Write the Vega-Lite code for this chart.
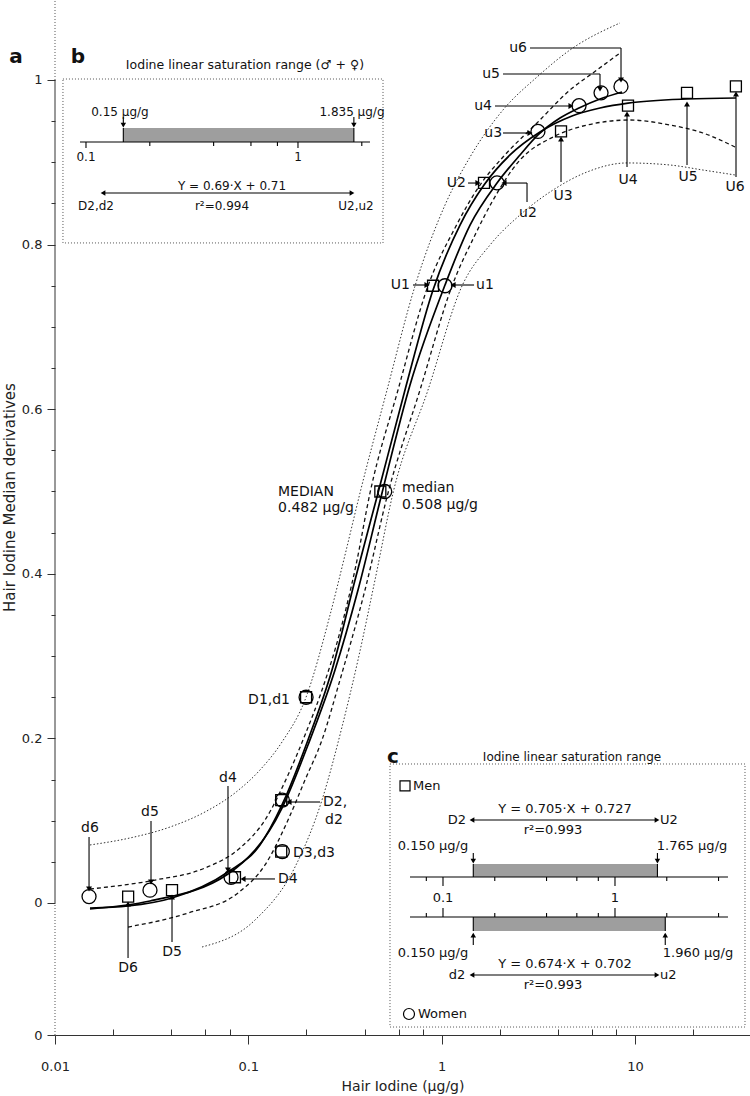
{
"$schema": "https://vega.github.io/schema/vega-lite/v6.json",
"width": 695, "height": 1035,
"autosize": "none",
"padding": {"left": 55, "top": 0, "right": 0, "bottom": 61},
"background": "white",
"config": {"view": {"stroke": null}, "font": "DejaVu Sans", "text": {"font": "DejaVu Sans", "fontSize": 14, "color": "#111"}},
"datasets": {
"men": [
{"id":"D6","x":0.0239,"y":0.0078},{"id":"D5","x":0.0403,"y":0.0156},{"id":"D4","x":0.0853,"y":0.03125},{"id":"D3","x":0.148,"y":0.0625},{"id":"D2","x":0.148,"y":0.125},{"id":"D1","x":0.199,"y":0.25},{"id":"MEDIAN","x":0.482,"y":0.5},{"id":"U1","x":0.903,"y":0.75},{"id":"U2","x":1.657,"y":0.875},{"id":"U3","x":4.147,"y":0.9375},{"id":"U4","x":9.21,"y":0.96875},{"id":"U5","x":18.6,"y":0.984375},{"id":"U6","x":33.3,"y":0.9921875}],
"women": [
{"id":"d6","x":0.015,"y":0.0078},{"id":"d5","x":0.031,"y":0.0156},{"id":"d4","x":0.0814,"y":0.03125},{"id":"d3","x":0.15,"y":0.0625},{"id":"d2","x":0.15,"y":0.125},{"id":"d1","x":0.199,"y":0.25},{"id":"median","x":0.508,"y":0.5},{"id":"u1","x":1.041,"y":0.75},{"id":"u2","x":1.935,"y":0.875},{"id":"u3","x":3.15,"y":0.9375},{"id":"u4","x":5.14,"y":0.96875},{"id":"u5","x":6.68,"y":0.984375},{"id":"u6","x":8.47,"y":0.9921875}],
"curves": [
{"curve":"Men fit","kind":"fit","x":0.01517,"y":-0.0061},{"curve":"Men fit","kind":"fit","x":0.02387,"y":-0.0036},{"curve":"Men fit","kind":"fit","x":0.0403,"y":0.0061},{"curve":"Men fit","kind":"fit","x":0.0785,"y":0.0377},{"curve":"Men fit","kind":"fit","x":0.1149,"y":0.0705},{"curve":"Men fit","kind":"fit","x":0.1494,"y":0.1191},{"curve":"Men fit","kind":"fit","x":0.2036,"y":0.1981},{"curve":"Men fit","kind":"fit","x":0.271,"y":0.2831},{"curve":"Men fit","kind":"fit","x":0.3565,"y":0.3925},{"curve":"Men fit","kind":"fit","x":0.4688,"y":0.4982},{"curve":"Men fit","kind":"fit","x":0.6466,"y":0.6233},{"curve":"Men fit","kind":"fit","x":0.9027,"y":0.7448},{"curve":"Men fit","kind":"fit","x":1.245,"y":0.8238},{"curve":"Men fit","kind":"fit","x":1.657,"y":0.8724},{"curve":"Men fit","kind":"fit","x":2.259,"y":0.9089},{"curve":"Men fit","kind":"fit","x":3.228,"y":0.9368},{"curve":"Men fit","kind":"fit","x":4.727,"y":0.9563},{"curve":"Men fit","kind":"fit","x":6.598,"y":0.966},{"curve":"Men fit","kind":"fit","x":9.212,"y":0.972},{"curve":"Men fit","kind":"fit","x":18.6,"y":0.9769},{"curve":"Men fit","kind":"fit","x":33.34,"y":0.9781},
{"curve":"Women fit","kind":"fit","x":0.01517,"y":-0.0073},{"curve":"Women fit","kind":"fit","x":0.031,"y":0.0024},{"curve":"Women fit","kind":"fit","x":0.0785,"y":0.0352},{"curve":"Women fit","kind":"fit","x":0.1494,"y":0.1154},{"curve":"Women fit","kind":"fit","x":0.2036,"y":0.192},{"curve":"Women fit","kind":"fit","x":0.2809,"y":0.2831},{"curve":"Women fit","kind":"fit","x":0.3694,"y":0.3803},{"curve":"Women fit","kind":"fit","x":0.4917,"y":0.4982},{"curve":"Women fit","kind":"fit","x":0.6863,"y":0.6294},{"curve":"Women fit","kind":"fit","x":1.0414,"y":0.7509},{"curve":"Women fit","kind":"fit","x":1.403,"y":0.8238},{"curve":"Women fit","kind":"fit","x":1.935,"y":0.8748},{"curve":"Women fit","kind":"fit","x":2.545,"y":0.9089},{"curve":"Women fit","kind":"fit","x":3.152,"y":0.9332},{"curve":"Women fit","kind":"fit","x":4.098,"y":0.9538},{"curve":"Women fit","kind":"fit","x":5.138,"y":0.966},{"curve":"Women fit","kind":"fit","x":6.598,"y":0.9769},{"curve":"Women fit","kind":"fit","x":8.577,"y":0.9854},
{"curve":"Upper prediction","kind":"prediction","x":0.01517,"y":0.0705},{"curve":"Upper prediction","kind":"prediction","x":0.02443,"y":0.079},{"curve":"Upper prediction","kind":"prediction","x":0.03935,"y":0.0923},{"curve":"Upper prediction","kind":"prediction","x":0.0597,"y":0.1106},{"curve":"Upper prediction","kind":"prediction","x":0.0853,"y":0.1337},{"curve":"Upper prediction","kind":"prediction","x":0.1149,"y":0.1616},{"curve":"Upper prediction","kind":"prediction","x":0.1494,"y":0.1956},{"curve":"Upper prediction","kind":"prediction","x":0.1965,"y":0.2467},{"curve":"Upper prediction","kind":"prediction","x":0.2647,"y":0.3499},{"curve":"Upper prediction","kind":"prediction","x":0.3164,"y":0.4228},{"curve":"Upper prediction","kind":"prediction","x":0.3783,"y":0.4982},{"curve":"Upper prediction","kind":"prediction","x":0.5219,"y":0.6233},{"curve":"Upper prediction","kind":"prediction","x":0.7285,"y":0.7497},{"curve":"Upper prediction","kind":"prediction","x":1.0414,"y":0.8481},{"curve":"Upper prediction","kind":"prediction","x":1.403,"y":0.9064},{"curve":"Upper prediction","kind":"prediction","x":2.078,"y":0.9636},{"curve":"Upper prediction","kind":"prediction","x":3.115,"y":1.0036},{"curve":"Upper prediction","kind":"prediction","x":4.616,"y":1.0365},{"curve":"Upper prediction","kind":"prediction","x":8.374,"y":1.0693},
{"curve":"Upper confidence","kind":"confidence","x":0.01517,"y":0.017},{"curve":"Upper confidence","kind":"confidence","x":0.03291,"y":0.0279},{"curve":"Upper confidence","kind":"confidence","x":0.0597,"y":0.0425},{"curve":"Upper confidence","kind":"confidence","x":0.0906,"y":0.0668},{"curve":"Upper confidence","kind":"confidence","x":0.122,"y":0.1008},{"curve":"Upper confidence","kind":"confidence","x":0.1605,"y":0.1555},{"curve":"Upper confidence","kind":"confidence","x":0.1965,"y":0.2041},{"curve":"Upper confidence","kind":"confidence","x":0.2406,"y":0.2588},{"curve":"Upper confidence","kind":"confidence","x":0.2981,"y":0.3293},{"curve":"Upper confidence","kind":"confidence","x":0.3608,"y":0.4107},{"curve":"Upper confidence","kind":"confidence","x":0.4262,"y":0.4982},{"curve":"Upper confidence","kind":"confidence","x":0.5948,"y":0.6233},{"curve":"Upper confidence","kind":"confidence","x":0.8502,"y":0.7497},{"curve":"Upper confidence","kind":"confidence","x":1.173,"y":0.8202},{"curve":"Upper confidence","kind":"confidence","x":1.58,"y":0.8724},{"curve":"Upper confidence","kind":"confidence","x":2.078,"y":0.9064},{"curve":"Upper confidence","kind":"confidence","x":3.115,"y":0.9478},{"curve":"Upper confidence","kind":"confidence","x":4.616,"y":0.9878},{"curve":"Upper confidence","kind":"confidence","x":6.366,"y":1.0122},{"curve":"Upper confidence","kind":"confidence","x":8.374,"y":1.0328},
{"curve":"Lower confidence","kind":"confidence","x":0.02387,"y":-0.0292},{"curve":"Lower confidence","kind":"confidence","x":0.04877,"y":-0.0122},{"curve":"Lower confidence","kind":"confidence","x":0.0885,"y":0.0122},{"curve":"Lower confidence","kind":"confidence","x":0.122,"y":0.0462},{"curve":"Lower confidence","kind":"confidence","x":0.1605,"y":0.1008},{"curve":"Lower confidence","kind":"confidence","x":0.1965,"y":0.1495},{"curve":"Lower confidence","kind":"confidence","x":0.2406,"y":0.1981},{"curve":"Lower confidence","kind":"confidence","x":0.2981,"y":0.271},{"curve":"Lower confidence","kind":"confidence","x":0.4015,"y":0.3803},{"curve":"Lower confidence","kind":"confidence","x":0.5282,"y":0.4982},{"curve":"Lower confidence","kind":"confidence","x":0.773,"y":0.6233},{"curve":"Lower confidence","kind":"confidence","x":1.132,"y":0.7497},{"curve":"Lower confidence","kind":"confidence","x":1.489,"y":0.8117},{"curve":"Lower confidence","kind":"confidence","x":1.823,"y":0.8518},{"curve":"Lower confidence","kind":"confidence","x":2.545,"y":0.9028},{"curve":"Lower confidence","kind":"confidence","x":3.77,"y":0.9307},{"curve":"Lower confidence","kind":"confidence","x":5.652,"y":0.9453},{"curve":"Lower confidence","kind":"confidence","x":9.434,"y":0.9514},{"curve":"Lower confidence","kind":"confidence","x":15.19,"y":0.9453},{"curve":"Lower confidence","kind":"confidence","x":22.5,"y":0.9356},{"curve":"Lower confidence","kind":"confidence","x":32.96,"y":0.9186},
{"curve":"Lower prediction","kind":"prediction","x":0.05762,"y":-0.0535},{"curve":"Lower prediction","kind":"prediction","x":0.1083,"y":-0.0207},{"curve":"Lower prediction","kind":"prediction","x":0.1744,"y":0.0437},{"curve":"Lower prediction","kind":"prediction","x":0.2406,"y":0.1252},{"curve":"Lower prediction","kind":"prediction","x":0.3053,"y":0.2139},{"curve":"Lower prediction","kind":"prediction","x":0.3694,"y":0.2953},{"curve":"Lower prediction","kind":"prediction","x":0.4523,"y":0.3925},{"curve":"Lower prediction","kind":"prediction","x":0.5607,"y":0.4982},{"curve":"Lower prediction","kind":"prediction","x":0.8502,"y":0.6233},{"curve":"Lower prediction","kind":"prediction","x":1.275,"y":0.7497},{"curve":"Lower prediction","kind":"prediction","x":1.78,"y":0.7995},{"curve":"Lower prediction","kind":"prediction","x":2.545,"y":0.836},{"curve":"Lower prediction","kind":"prediction","x":3.77,"y":0.8663},{"curve":"Lower prediction","kind":"prediction","x":5.652,"y":0.8882},{"curve":"Lower prediction","kind":"prediction","x":9.102,"y":0.8992},{"curve":"Lower prediction","kind":"prediction","x":15.19,"y":0.8967},{"curve":"Lower prediction","kind":"prediction","x":22.5,"y":0.8906},{"curve":"Lower prediction","kind":"prediction","x":32.96,"y":0.8846}],
"axisSolid": [{"x":0.01,"y":0,"y2":1}],
"axisDotted": [{"x":0.01,"y":1,"y2":1.0972},{"x":0.01,"y":-0.1604,"y2":0}],
"leaders": [
{"x":2.866,"y":1.0389,"x2":8.474,"y2":1.0389},{"x":8.474,"y":1.0389,"x2":8.474,"y2":1.0},
{"x":2.078,"y":1.0073,"x2":6.598,"y2":1.0073},{"x":6.598,"y":1.0073,"x2":6.598,"y2":0.9891},
{"x":1.889,"y":0.9684,"x2":4.67,"y2":0.9684},
{"x":2.078,"y":0.9356,"x2":2.866,"y2":0.9356},
{"x":1.37,"y":0.8748,"x2":1.542,"y2":0.8748},
{"x":2.766,"y":0.8518,"x2":2.766,"y2":0.8748},{"x":2.766,"y":0.8748,"x2":2.102,"y2":0.8748},
{"x":4.147,"y":0.876,"x2":4.147,"y2":0.9283},
{"x":9.102,"y":0.8943,"x2":9.102,"y2":0.9587},
{"x":18.6,"y":0.8967,"x2":18.6,"y2":0.9708},
{"x":33.34,"y":0.8821,"x2":33.34,"y2":0.983},
{"x":0.7112,"y":0.7509,"x2":0.8405,"y2":0.7509},
{"x":1.472,"y":0.7509,"x2":1.146,"y2":0.7509},
{"x":0.2349,"y":0.1227,"x2":0.1624,"y2":0.1227},
{"x":0.1374,"y":0.0292,"x2":0.0939,"y2":0.0292},
{"x":0.0785,"y":0.1422,"x2":0.0785,"y2":0.0401},
{"x":0.03138,"y":0.0996,"x2":0.03138,"y2":0.0255},
{"x":0.015,"y":0.0802,"x2":0.015,"y2":0.017},
{"x":0.0403,"y":-0.0474,"x2":0.0403,"y2":0.0073},
{"x":0.02387,"y":-0.0668,"x2":0.02387,"y2":-0.0012}],
"heads": [
{"x":8.474,"y":1.0,"dir":"down"},{"x":6.598,"y":0.9891,"dir":"down"},{"x":4.67,"y":0.9684,"dir":"right"},{"x":2.866,"y":0.9356,"dir":"right"},{"x":1.542,"y":0.8748,"dir":"right"},{"x":2.102,"y":0.8748,"dir":"left"},{"x":4.147,"y":0.9283,"dir":"up"},{"x":9.102,"y":0.9587,"dir":"up"},{"x":18.6,"y":0.9708,"dir":"up"},{"x":33.34,"y":0.983,"dir":"up"},{"x":0.8405,"y":0.7509,"dir":"right"},{"x":1.146,"y":0.7509,"dir":"left"},{"x":0.1624,"y":0.1227,"dir":"left"},{"x":0.0939,"y":0.0292,"dir":"left"},{"x":0.0785,"y":0.0401,"dir":"down"},{"x":0.03138,"y":0.0255,"dir":"down"},{"x":0.015,"y":0.017,"dir":"down"},{"x":0.0403,"y":0.0073,"dir":"up"},{"x":0.02387,"y":-0.0012,"dir":"up"}],
"txtL": [
{"text":"MEDIAN","x":0.1425,"y":0.4994},{"text":"0.482 μg/g","x":0.1425,"y":0.48},{"text":"median","x":0.6238,"y":0.5043},{"text":"0.508 μg/g","x":0.6238,"y":0.4836},{"text":"u1","x":1.507,"y":0.7509},{"text":"D2,","x":0.2434,"y":0.1227},{"text":"d2","x":0.2493,"y":0.1008},{"text":"D3,d3","x":0.1703,"y":0.0608},{"text":"D4","x":0.1425,"y":0.0292}],
"txtR": [
{"text":"D1,d1","x":0.1644,"y":0.2467},{"text":"U1","x":0.6863,"y":0.7509},{"text":"U2","x":1.337,"y":0.8748},{"text":"u3","x":2.054,"y":0.9356},{"text":"u4","x":1.823,"y":0.9684},{"text":"u5","x":2.005,"y":1.0073},{"text":"u6","x":2.766,"y":1.0389}],
"txtC": [
{"text":"u2","x":2.798,"y":0.8384},{"text":"U3","x":4.246,"y":0.8591},{"text":"U4","x":9.212,"y":0.8785},{"text":"U5","x":18.83,"y":0.8821},{"text":"U6","x":32.96,"y":0.87},{"text":"d4","x":0.0785,"y":0.1519},{"text":"d5","x":0.031,"y":0.1106},{"text":"d6","x":0.01517,"y":0.0911},{"text":"D5","x":0.0403,"y":-0.0595},{"text":"D6","x":0.02387,"y":-0.079}],
"tagA": [{"text":"a","x":0.006284,"y":1.0279}],
"bBox": [{"x":0.07787,"x2":2.518,"y":1.0012,"y2":0.802}],
"bBar": [{"x":0.15,"x2":1.835,"y":0.9417,"y2":0.9247}],
"bSegs": [
{"x":0.0937,"y":0.9247,"x2":2.186,"y2":0.9247},
{"x":0.2,"y":0.9247,"x2":0.2,"y2":0.9198},{"x":0.4,"y":0.9247,"x2":0.4,"y2":0.9198},{"x":0.6,"y":0.9247,"x2":0.6,"y2":0.9198},{"x":0.8,"y":0.9247,"x2":0.8,"y2":0.9198},{"x":2,"y":0.9247,"x2":2,"y2":0.9198},
{"x":0.1,"y":0.9247,"x2":0.1,"y2":0.9174},{"x":1,"y":0.9247,"x2":1,"y2":0.9174},
{"x":0.15,"y":0.9417,"x2":0.15,"y2":0.9247},{"x":1.835,"y":0.9417,"x2":1.835,"y2":0.9247},
{"x":0.15,"y":0.9551,"x2":0.15,"y2":0.9441},{"x":1.835,"y":0.9551,"x2":1.835,"y2":0.9441},
{"x":0.1203,"y":0.8627,"x2":1.798,"y2":0.8627}],
"bHeads": [{"x":0.15,"y":0.9453,"dir":"down"},{"x":1.835,"y":0.9453,"dir":"down"},{"x":0.1203,"y":0.8627,"dir":"left"},{"x":1.798,"y":0.8627,"dir":"right"}],
"bText": [
{"text":"0.15 μg/g","x":0.1446,"y":0.9611},{"text":"1.835 μg/g","x":1.798,"y":0.9611},{"text":"0.1","x":0.1,"y":0.9064},{"text":"1","x":1,"y":0.9064},{"text":"Y = 0.69·X + 0.71","x":0.4884,"y":0.8712},{"text":"D2,d2","x":0.1115,"y":0.8469},{"text":"U2,u2","x":1.878,"y":0.8469},{"text":"r²=0.994","x":0.4381,"y":0.8469}],
"bTitle": [{"text":"Iodine linear saturation range (♂ + ♀)","x":0.5623,"y":1.0182}],
"bTag": [{"text":"b","x":0.0917,"y":1.0279}],
"cBox": [{"x":0.04918,"x2":5.7,"y":0.1689,"y2":-0.1507}],
"cBars": [{"x":0.15,"x2":1.765,"y":0.0474,"y2":0.0316},{"x":0.15,"x2":1.96,"y":-0.017,"y2":-0.034}],
"cSegs": [
{"x":0.06428,"y":0.0316,"x2":4.539,"y2":0.0316},{"x":0.06428,"y":-0.017,"x2":4.539,"y2":-0.017},
{"x":0.08,"y":0.0316,"x2":0.08,"y2":0.0267},{"x":0.2,"y":0.0316,"x2":0.2,"y2":0.0267},{"x":0.4,"y":0.0316,"x2":0.4,"y2":0.0267},{"x":0.6,"y":0.0316,"x2":0.6,"y2":0.0267},{"x":0.8,"y":0.0316,"x2":0.8,"y2":0.0267},{"x":2,"y":0.0316,"x2":2,"y2":0.0267},{"x":4,"y":0.0316,"x2":4,"y2":0.0267},
{"x":0.1,"y":0.0316,"x2":0.1,"y2":0.0207},{"x":1,"y":0.0316,"x2":1,"y2":0.0207},
{"x":0.08,"y":-0.017,"x2":0.08,"y2":-0.0122},{"x":0.2,"y":-0.017,"x2":0.2,"y2":-0.0122},{"x":0.4,"y":-0.017,"x2":0.4,"y2":-0.0122},{"x":0.6,"y":-0.017,"x2":0.6,"y2":-0.0122},{"x":0.8,"y":-0.017,"x2":0.8,"y2":-0.0122},{"x":2,"y":-0.017,"x2":2,"y2":-0.0122},{"x":4,"y":-0.017,"x2":4,"y2":-0.0122},
{"x":0.1,"y":-0.017,"x2":0.1,"y2":-0.0061},{"x":1,"y":-0.017,"x2":1,"y2":-0.0061},
{"x":0.15,"y":0.0474,"x2":0.15,"y2":0.0316},{"x":1.765,"y":0.0474,"x2":1.765,"y2":0.0316},{"x":0.15,"y":-0.017,"x2":0.15,"y2":-0.034},{"x":1.96,"y":-0.017,"x2":1.96,"y2":-0.034},
{"x":0.15,"y":0.0608,"x2":0.15,"y2":0.0498},{"x":1.765,"y":0.0608,"x2":1.765,"y2":0.0498},{"x":0.15,"y":-0.051,"x2":0.15,"y2":-0.0377},{"x":1.96,"y":-0.051,"x2":1.96,"y2":-0.0377},
{"x":0.1474,"y":0.1008,"x2":1.755,"y2":0.1008},{"x":0.1474,"y":-0.0875,"x2":1.755,"y2":-0.0875}],
"cHeads": [{"x":0.15,"y":0.051,"dir":"down"},{"x":1.765,"y":0.051,"dir":"down"},{"x":0.15,"y":-0.0389,"dir":"up"},{"x":1.96,"y":-0.0389,"dir":"up"},{"x":0.1474,"y":0.1008,"dir":"left"},{"x":0.1474,"y":-0.0875,"dir":"left"},{"x":1.755,"y":0.1008,"dir":"right"},{"x":1.755,"y":-0.0875,"dir":"right"}],
"cTextC": [
{"text":"Y = 0.705·X + 0.727","x":0.5122,"y":0.1142},{"text":"r²=0.993","x":0.4361,"y":0.0887},{"text":"D2","x":0.1206,"y":0.1008},{"text":"0.150 μg/g","x":0.08746,"y":0.0693},{"text":"1.765 μg/g","x":2.804,"y":0.0693},{"text":"0.1","x":0.1,"y":0.0061},{"text":"1","x":1,"y":0.0061},{"text":"0.150 μg/g","x":0.08746,"y":-0.0608},{"text":"1.960 μg/g","x":3.038,"y":-0.0608},{"text":"Y = 0.674·X + 0.702","x":0.5122,"y":-0.0741},{"text":"d2","x":0.1206,"y":-0.0875},{"text":"r²=0.993","x":0.4361,"y":-0.0996}],
"cTextL": [{"text":"U2","x":1.826,"y":0.1008},{"text":"u2","x":1.826,"y":-0.0875},{"text":"Men","x":0.06692,"y":0.1422},{"text":"Women","x":0.07156,"y":-0.1349}],
"cTitle": [{"text":"Iodine linear saturation range","x":0.5623,"y":0.1774}],
"cTag": [{"text":"c","x":0.0512,"y":0.1774}],
"cSquare": [{"x":0.06014,"y":0.1422}],
"cCircle": [{"x":0.06343,"y":-0.1349}]
},
"resolve": {"scale": {"x": "independent", "y": "independent"}, "axis": {"x": "independent", "y": "independent"}},
"layer": [
{
"encoding": {
"x": {"field": "x", "type": "quantitative", "scale": {"type": "log", "domain": [0.01, 39.39], "nice": false},
 "axis": {"values": [0.01,0.02,0.04,0.06,0.08,0.1,0.2,0.4,0.6,0.8,1,2,4,6,8,10,20],
  "labelExpr": "indexof([0.01,0.1,1,10], datum.value) >= 0 ? '' + datum.value : ''",
  "tickSize": {"condition": {"test": "indexof([0.01,0.1,1,10], datum.value) >= 0", "value": 9}, "value": -6},
  "title": "Hair Iodine (μg/g)", "grid": false, "labelFontSize": 13, "titleFontSize": 14, "titleFontWeight": "normal",
  "labelFont": "DejaVu Sans", "titleFont": "DejaVu Sans", "labelPadding": 16, "titlePadding": 6, "labelFlush": false,
  "domainColor": "#333", "tickColor": "#333", "labelColor": "#222", "titleColor": "#222", "labelOverlap": false}},
"y": {"field": "y", "type": "quantitative", "scale": {"domain": [-0.1604, 1.0972], "nice": false, "zero": false},
 "axis": {"values": [-0.1604,0,0.05,0.1,0.15,0.2,0.25,0.3,0.35,0.4,0.45,0.5,0.55,0.6,0.65,0.7,0.75,0.8,0.85,0.9,0.95,1],
  "labelExpr": "datum.value < -0.1 ? '0' : (indexof([0,0.2,0.4,0.6,0.8,1], datum.value) >= 0 ? '' + datum.value : '')",
  "tickSize": {"condition": {"test": "datum.value < -0.1 || indexof([0,0.2,0.4,0.6,0.8,1], datum.value) >= 0", "value": 8}, "value": 4},
  "domain": false, "grid": false, "title": "Hair Iodine Median derivatives", "titleX": -46, "titleY": 497, "titleAlign": "center", "titleBaseline": "middle",
  "labelFontSize": 13, "titleFontSize": 15, "titleFontWeight": "normal", "labelFont": "DejaVu Sans", "titleFont": "DejaVu Sans",
  "labelPadding": 5, "tickColor": "#333", "labelColor": "#222", "titleColor": "#222", "labelOverlap": false}}
},
"layer": [
{"data": {"name": "curves"}, "transform": [{"filter": "datum.kind == 'prediction'"}], "mark": {"type": "line", "interpolate": "monotone", "strokeDash": [1.5, 2], "strokeWidth": 1, "color": "#333"}, "encoding": {"detail": {"field": "curve"}}},
{"data": {"name": "curves"}, "transform": [{"filter": "datum.kind == 'confidence'"}], "mark": {"type": "line", "interpolate": "monotone", "strokeDash": [4, 3], "strokeWidth": 1.3, "color": "#111"}, "encoding": {"detail": {"field": "curve"}}},
{"data": {"name": "curves"}, "transform": [{"filter": "datum.kind == 'fit'"}], "mark": {"type": "line", "interpolate": "monotone", "strokeWidth": 1.7, "color": "#000"}, "encoding": {"detail": {"field": "curve"}}},
{"data": {"name": "axisSolid"}, "mark": {"type": "rule", "color": "#333", "strokeWidth": 1}, "encoding": {"y2": {"field": "y2"}}},
{"data": {"name": "axisDotted"}, "mark": {"type": "rule", "color": "#555", "strokeWidth": 1, "strokeDash": [1, 2]}, "encoding": {"y2": {"field": "y2"}}},
{"data": {"name": "leaders"}, "mark": {"type": "rule", "color": "#000", "strokeWidth": 1.1}, "encoding": {"x2": {"field": "x2"}, "y2": {"field": "y2"}}},
{"data": {"name": "heads"}, "transform": [{"filter": "datum.dir == 'up'"}], "mark": {"type": "point", "shape": "triangle-up", "angle": 0, "filled": true, "size": 35, "color": "#000", "opacity": 1}, "encoding": {}},
{"data": {"name": "heads"}, "transform": [{"filter": "datum.dir == 'right'"}], "mark": {"type": "point", "shape": "triangle-up", "angle": 90, "filled": true, "size": 35, "color": "#000", "opacity": 1}, "encoding": {}},
{"data": {"name": "heads"}, "transform": [{"filter": "datum.dir == 'down'"}], "mark": {"type": "point", "shape": "triangle-up", "angle": 180, "filled": true, "size": 35, "color": "#000", "opacity": 1}, "encoding": {}},
{"data": {"name": "heads"}, "transform": [{"filter": "datum.dir == 'left'"}], "mark": {"type": "point", "shape": "triangle-up", "angle": 270, "filled": true, "size": 35, "color": "#000", "opacity": 1}, "encoding": {}},
{"data": {"name": "men"}, "mark": {"type": "point", "shape": "square", "size": 121, "filled": false, "color": "#000", "strokeWidth": 1.3, "opacity": 1}, "encoding": {}},
{"data": {"name": "women"}, "mark": {"type": "point", "shape": "circle", "size": 196, "filled": false, "color": "#000", "strokeWidth": 1.3, "opacity": 1}, "encoding": {}},
{"data": {"name": "txtL"}, "mark": {"type": "text", "align": "left", "baseline": "middle", "fontSize": 14}, "encoding": {"text": {"field": "text"}}},
{"data": {"name": "txtR"}, "mark": {"type": "text", "align": "right", "baseline": "middle", "fontSize": 14}, "encoding": {"text": {"field": "text"}}},
{"data": {"name": "txtC"}, "mark": {"type": "text", "align": "center", "baseline": "middle", "fontSize": 14}, "encoding": {"text": {"field": "text"}}},
{"data": {"name": "tagA"}, "mark": {"type": "text", "align": "center", "baseline": "middle", "fontSize": 20, "fontWeight": "bold"}, "encoding": {"text": {"field": "text"}}}
]
},
{
"encoding": {
"x": {"field": "x", "type": "quantitative", "scale": {"type": "log", "domain": [0.07142, 135.6], "nice": false}, "axis": null},
"y": {"field": "y", "type": "quantitative", "scale": {"domain": [-0.1604, 1.0972], "nice": false, "zero": false}, "axis": null}
},
"layer": [
{"data": {"name": "bBox"}, "mark": {"type": "rect", "fillOpacity": 0, "stroke": "#555", "strokeWidth": 1, "strokeDash": [1, 2]}, "encoding": {"x2": {"field": "x2"}, "y2": {"field": "y2"}}},
{"data": {"name": "bBar"}, "mark": {"type": "rect", "fill": "#9e9e9e"}, "encoding": {"x2": {"field": "x2"}, "y2": {"field": "y2"}}},
{"data": {"name": "bSegs"}, "mark": {"type": "rule", "color": "#000", "strokeWidth": 1.1}, "encoding": {"x2": {"field": "x2"}, "y2": {"field": "y2"}}},
{"data": {"name": "bHeads"}, "transform": [{"filter": "datum.dir == 'right'"}], "mark": {"type": "point", "shape": "triangle-up", "angle": 90, "filled": true, "size": 30, "color": "#000", "opacity": 1}, "encoding": {}},
{"data": {"name": "bHeads"}, "transform": [{"filter": "datum.dir == 'down'"}], "mark": {"type": "point", "shape": "triangle-up", "angle": 180, "filled": true, "size": 30, "color": "#000", "opacity": 1}, "encoding": {}},
{"data": {"name": "bHeads"}, "transform": [{"filter": "datum.dir == 'left'"}], "mark": {"type": "point", "shape": "triangle-up", "angle": 270, "filled": true, "size": 30, "color": "#000", "opacity": 1}, "encoding": {}},
{"data": {"name": "bText"}, "mark": {"type": "text", "align": "center", "baseline": "middle", "fontSize": 12}, "encoding": {"text": {"field": "text"}}},
{"data": {"name": "bTitle"}, "mark": {"type": "text", "align": "center", "baseline": "middle", "fontSize": 12.5}, "encoding": {"text": {"field": "text"}}},
{"data": {"name": "bTag"}, "mark": {"type": "text", "align": "center", "baseline": "middle", "fontSize": 20, "fontWeight": "bold"}, "encoding": {"text": {"field": "text"}}}
]
},
{
"encoding": {
"x": {"field": "x", "type": "quantitative", "scale": {"type": "log", "domain": [0.0005548, 6.095], "nice": false}, "axis": null},
"y": {"field": "y", "type": "quantitative", "scale": {"domain": [-0.1604, 1.0972], "nice": false, "zero": false}, "axis": null}
},
"layer": [
{"data": {"name": "cBox"}, "mark": {"type": "rect", "fillOpacity": 0, "stroke": "#555", "strokeWidth": 1, "strokeDash": [1, 2]}, "encoding": {"x2": {"field": "x2"}, "y2": {"field": "y2"}}},
{"data": {"name": "cBars"}, "mark": {"type": "rect", "fill": "#9e9e9e"}, "encoding": {"x2": {"field": "x2"}, "y2": {"field": "y2"}}},
{"data": {"name": "cSegs"}, "mark": {"type": "rule", "color": "#000", "strokeWidth": 1.1}, "encoding": {"x2": {"field": "x2"}, "y2": {"field": "y2"}}},
{"data": {"name": "cHeads"}, "transform": [{"filter": "datum.dir == 'up'"}], "mark": {"type": "point", "shape": "triangle-up", "angle": 0, "filled": true, "size": 30, "color": "#000", "opacity": 1}, "encoding": {}},
{"data": {"name": "cHeads"}, "transform": [{"filter": "datum.dir == 'right'"}], "mark": {"type": "point", "shape": "triangle-up", "angle": 90, "filled": true, "size": 30, "color": "#000", "opacity": 1}, "encoding": {}},
{"data": {"name": "cHeads"}, "transform": [{"filter": "datum.dir == 'down'"}], "mark": {"type": "point", "shape": "triangle-up", "angle": 180, "filled": true, "size": 30, "color": "#000", "opacity": 1}, "encoding": {}},
{"data": {"name": "cHeads"}, "transform": [{"filter": "datum.dir == 'left'"}], "mark": {"type": "point", "shape": "triangle-up", "angle": 270, "filled": true, "size": 30, "color": "#000", "opacity": 1}, "encoding": {}},
{"data": {"name": "cSquare"}, "mark": {"type": "point", "shape": "square", "size": 100, "filled": false, "color": "#000", "strokeWidth": 1.2, "opacity": 1}, "encoding": {}},
{"data": {"name": "cCircle"}, "mark": {"type": "point", "shape": "circle", "size": 121, "filled": false, "color": "#000", "strokeWidth": 1.2, "opacity": 1}, "encoding": {}},
{"data": {"name": "cTextC"}, "mark": {"type": "text", "align": "center", "baseline": "middle", "fontSize": 13}, "encoding": {"text": {"field": "text"}}},
{"data": {"name": "cTextL"}, "mark": {"type": "text", "align": "left", "baseline": "middle", "fontSize": 13}, "encoding": {"text": {"field": "text"}}},
{"data": {"name": "cTitle"}, "mark": {"type": "text", "align": "center", "baseline": "middle", "fontSize": 12}, "encoding": {"text": {"field": "text"}}},
{"data": {"name": "cTag"}, "mark": {"type": "text", "align": "center", "baseline": "middle", "fontSize": 20, "fontWeight": "bold"}, "encoding": {"text": {"field": "text"}}}
]
}
]
}
